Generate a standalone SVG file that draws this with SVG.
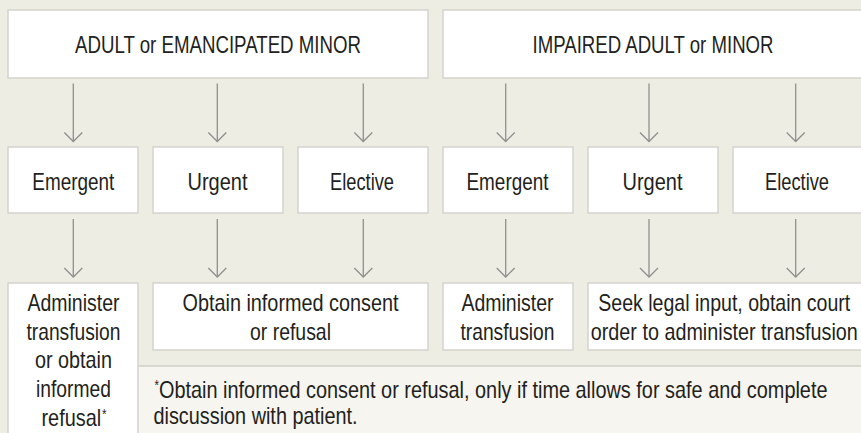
<svg xmlns="http://www.w3.org/2000/svg" width="861" height="433" viewBox="0 0 861 433">
  <style>
    .box { fill: #ffffff; stroke: #d3d3ce; stroke-width: 1.5; }
    .t { font-family: "Liberation Sans", Arial, sans-serif; font-size: 24px; fill: #231f20; }
    .c { text-anchor: middle; }
    .sup { font-size: 14px; }
    .conn { stroke: #8f8f8f; stroke-width: 1.3; fill: none; }
  </style>
  <defs>
    <marker id="chev" viewBox="-11 -11 22 22" refX="0" refY="0" markerWidth="22" markerHeight="22" markerUnits="userSpaceOnUse" orient="auto" overflow="visible">
      <path d="M-9,-9 L0,0 L-9,9" fill="none" stroke="#8f8f8f" stroke-width="1.3"/>
    </marker>
  </defs>

  <rect x="0" y="0" width="861" height="433" fill="#eeede3"/>

  <g id="footnote">
    <rect x="138" y="366" width="723" height="67" fill="#f6f5ef"/>
    <line x1="138" y1="366" x2="861" y2="366" stroke="#cfcfc9" stroke-width="1.5"/>
    <text class="t" x="154.5" y="398" textLength="673" lengthAdjust="spacingAndGlyphs"><tspan class="sup" dy="-8">*</tspan><tspan dy="8">Obtain informed consent or refusal, only if time allows for safe and complete</tspan></text>
    <text class="t" x="153.5" y="424" textLength="204" lengthAdjust="spacingAndGlyphs">discussion with patient.</text>
  </g>

  <g id="connectors">
    <line class="conn" x1="73.3" y1="83.5" x2="73.3" y2="141.5" marker-end="url(#chev)"/>
    <line class="conn" x1="217.3" y1="83.5" x2="217.3" y2="141.5" marker-end="url(#chev)"/>
    <line class="conn" x1="363.3" y1="83.5" x2="363.3" y2="141.5" marker-end="url(#chev)"/>
    <line class="conn" x1="505.7" y1="83.5" x2="505.7" y2="141.5" marker-end="url(#chev)"/>
    <line class="conn" x1="649" y1="83.5" x2="649" y2="141.5" marker-end="url(#chev)"/>
    <line class="conn" x1="795.7" y1="83.5" x2="795.7" y2="141.5" marker-end="url(#chev)"/>
    <line class="conn" x1="73.3" y1="219" x2="73.3" y2="277" marker-end="url(#chev)"/>
    <line class="conn" x1="217.3" y1="219" x2="217.3" y2="277" marker-end="url(#chev)"/>
    <line class="conn" x1="363.3" y1="219" x2="363.3" y2="277" marker-end="url(#chev)"/>
    <line class="conn" x1="505.7" y1="219" x2="505.7" y2="277" marker-end="url(#chev)"/>
    <line class="conn" x1="649" y1="219" x2="649" y2="277" marker-end="url(#chev)"/>
    <line class="conn" x1="795.7" y1="219" x2="795.7" y2="277" marker-end="url(#chev)"/>
  </g>

  <g id="adult">
    <rect class="box" x="8" y="10" width="420" height="68"/>
    <text class="t c" x="218" y="53.3" textLength="286" lengthAdjust="spacingAndGlyphs">ADULT or EMANCIPATED MINOR</text>
  </g>
  <g id="impaired">
    <rect class="box" x="443" y="10" width="420" height="68"/>
    <text class="t c" x="653" y="53.3" textLength="241" lengthAdjust="spacingAndGlyphs">IMPAIRED ADULT or MINOR</text>
  </g>

  <g id="a-emergent">
    <rect class="box" x="8" y="147" width="130" height="66"/>
    <text class="t c" x="73.3" y="190" textLength="82" lengthAdjust="spacingAndGlyphs">Emergent</text>
  </g>
  <g id="a-urgent">
    <rect class="box" x="153" y="147" width="130" height="66"/>
    <text class="t c" x="217.5" y="190" textLength="60" lengthAdjust="spacingAndGlyphs">Urgent</text>
  </g>
  <g id="a-elective">
    <rect class="box" x="298" y="147" width="130" height="66"/>
    <text class="t c" x="362" y="190" textLength="64" lengthAdjust="spacingAndGlyphs">Elective</text>
  </g>
  <g id="i-emergent">
    <rect class="box" x="443" y="147" width="130" height="66"/>
    <text class="t c" x="507.5" y="190" textLength="82" lengthAdjust="spacingAndGlyphs">Emergent</text>
  </g>
  <g id="i-urgent">
    <rect class="box" x="588" y="147" width="130" height="66"/>
    <text class="t c" x="652.5" y="190" textLength="60" lengthAdjust="spacingAndGlyphs">Urgent</text>
  </g>
  <g id="i-elective">
    <rect class="box" x="733" y="147" width="130" height="66"/>
    <text class="t c" x="797" y="190" textLength="64" lengthAdjust="spacingAndGlyphs">Elective</text>
  </g>

  <g id="a-emergent-action">
    <rect class="box" x="8" y="283" width="130" height="160"/>
    <text class="t c" x="73.5" y="311" textLength="92" lengthAdjust="spacingAndGlyphs">Administer</text>
    <text class="t c" x="73.5" y="339.5" textLength="94" lengthAdjust="spacingAndGlyphs">transfusion</text>
    <text class="t c" x="73.5" y="368" textLength="77" lengthAdjust="spacingAndGlyphs">or obtain</text>
    <text class="t c" x="73.5" y="397" textLength="75" lengthAdjust="spacingAndGlyphs">informed</text>
    <text class="t" x="41.5" y="425.5" textLength="65" lengthAdjust="spacingAndGlyphs">refusal<tspan class="sup" dx="1" dy="-7">*</tspan></text>
  </g>
  <g id="a-consent">
    <rect class="box" x="153" y="283" width="275" height="67"/>
    <text class="t c" x="290.5" y="311" textLength="216" lengthAdjust="spacingAndGlyphs">Obtain informed consent</text>
    <text class="t c" x="290.5" y="340" textLength="81" lengthAdjust="spacingAndGlyphs">or refusal</text>
  </g>
  <g id="i-emergent-action">
    <rect class="box" x="443" y="283" width="130" height="67"/>
    <text class="t c" x="507.5" y="311" textLength="92" lengthAdjust="spacingAndGlyphs">Administer</text>
    <text class="t c" x="507.5" y="340" textLength="94" lengthAdjust="spacingAndGlyphs">transfusion</text>
  </g>
  <g id="i-court">
    <rect class="box" x="588" y="283" width="275" height="67"/>
    <text class="t c" x="724.3" y="311" textLength="252" lengthAdjust="spacingAndGlyphs">Seek legal input, obtain court</text>
    <text class="t c" x="724.3" y="340" textLength="267" lengthAdjust="spacingAndGlyphs">order to administer transfusion</text>
  </g>
</svg>
